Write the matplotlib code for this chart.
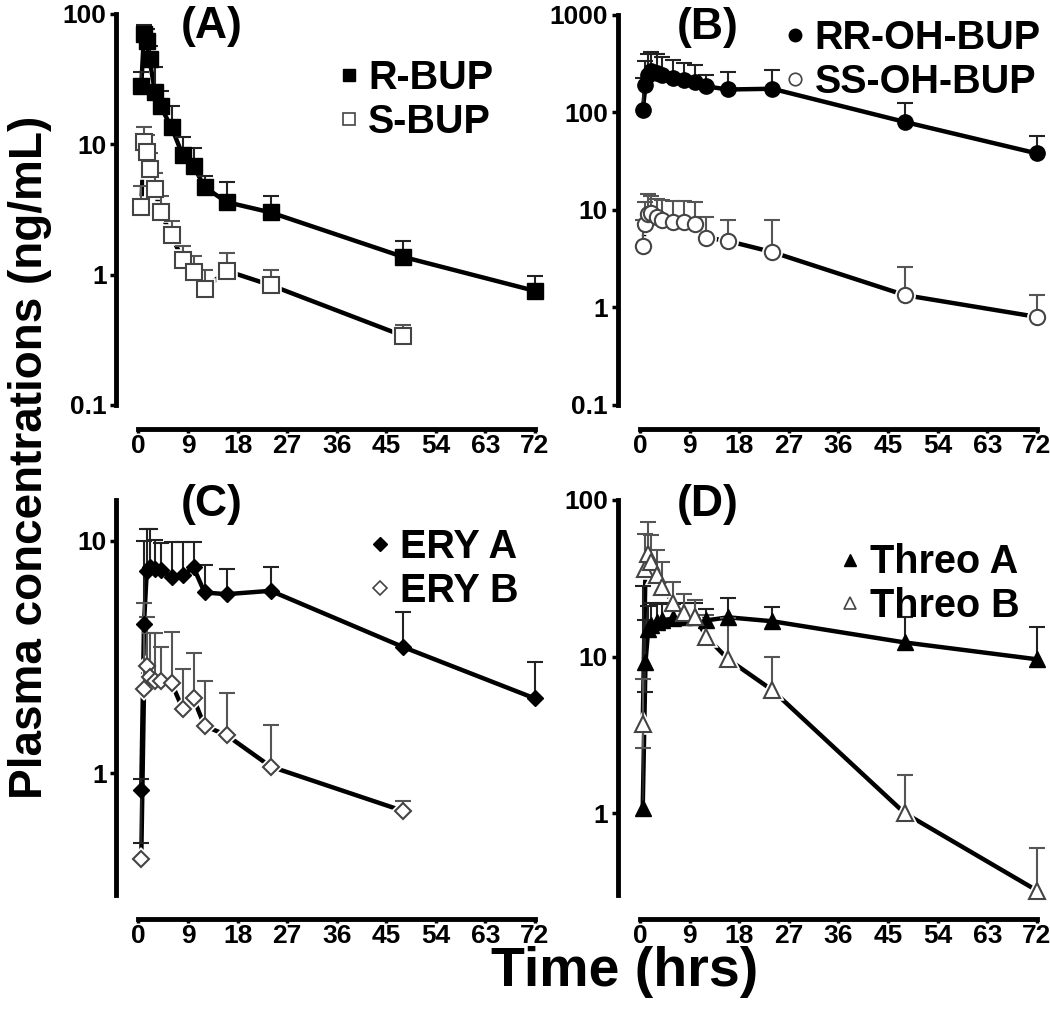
import matplotlib
matplotlib.use('Agg')
import matplotlib.pyplot as plt
from matplotlib.lines import Line2D
from matplotlib.ticker import FixedLocator, FuncFormatter

plt.rcParams['font.family'] = ['Liberation Sans', 'DejaVu Sans']

# sampling times (hrs)
t_full = [0.5, 1, 1.5, 2, 3, 4, 6, 8, 10, 12, 16, 24, 48, 72]
t_48 = [0.5, 1, 1.5, 2, 3, 4, 6, 8, 10, 12, 16, 24, 48]

# (A) bupropion enantiomers
r_bup = [28, 70, 62, 45, 25, 19.5, 13.5, 8.3, 6.8, 4.7, 3.6, 3.0, 1.37, 0.75]
r_bup_sd = [8, 12, 15, 12, 14, 6, 6, 3, 2.5, 1.0, 1.5, 1.0, 0.45, 0.22]
s_bup = [3.3, 10.5, 8.8, 6.5, 4.5, 3.0, 2.0, 1.3, 1.05, 0.78, 1.07, 0.83, 0.34]
s_bup_sd = [1.5, 3.0, 3.0, 2.0, 1.5, 1.0, 0.6, 0.35, 0.35, 0.3, 0.4, 0.25, 0.07]

# (B) hydroxybupropion
rr_oh = [105, 190, 240, 265, 255, 240, 225, 215, 205, 185, 172, 175, 80, 38]
rr_oh_sd = [120, 150, 160, 150, 140, 130, 120, 110, 100, 60, 90, 100, 45, 20]
ss_oh = [4.3, 7.2, 9.0, 9.3, 8.5, 7.8, 7.5, 7.5, 7.2, 5.2, 4.8, 3.7, 1.34, 0.8]
ss_oh_sd = [3.5, 5, 5.5, 4.5, 4.5, 5, 5, 5, 5, 3.3, 3.0, 4.2, 1.26, 0.55]

# (C) erythrohydrobupropion
ery_a = [0.85, 4.4, 7.4, 7.7, 7.6, 7.5, 7.0, 7.1, 7.7, 6.0, 5.9, 6.1, 3.5, 2.1]
ery_a_sd = [0.1, 5.6, 3.9, 3.5, 2.5, 2.3, 2.9, 2.8, 2.2, 1.9, 1.7, 1.6, 1.45, 0.9]
ery_a_lo = [0.35, 0, 0, 0, 0, 0, 0, 0, 0, 0, 0, 0, 0, 0]
ery_b = [0.43, 2.3, 2.9, 2.6, 2.5, 2.5, 2.45, 1.9, 2.1, 1.6, 1.46, 1.07, 0.69]
ery_b_sd = [0, 3.1, 1.8, 1.4, 1.5, 1.0, 1.6, 0.9, 1.2, 0.9, 0.75, 0.55, 0.07]

# (D) threohydrobupropion
threo_a = [1.08, 9.2, 15, 16, 16.5, 17, 17.5, 18, 18, 17, 17.8, 16.8, 12.3, 9.6]
threo_a_sd = [27, 8, 6, 6, 5, 5, 4, 4, 4, 3, 6, 4, 5.5, 5.8]
threo_a_lo = [0, 3.3, 0, 0, 0, 0, 0, 0, 0, 0, 0, 0, 0, 0]
threo_b = [3.7, 36, 45, 40, 33, 28, 22, 19, 18, 13.4, 9.6, 6.1, 1.0, 0.32]
threo_b_sd = [3.5, 25, 27, 20, 15, 12, 8, 6, 5, 5, 8, 3.9, 0.74, 0.28]
threo_b_lo = [1.1, 0, 0, 0, 0, 0, 0, 0, 0, 0, 0, 0, 0, 0]

x_ticks = [0, 9, 18, 27, 36, 45, 54, 63, 72]

fig = plt.figure(figsize=(10.5, 10.17), dpi=100)

# axes boxes in figure fractions
axA = fig.add_axes([0.1319, 0.6018, 0.3776, 0.3845])
axB = fig.add_axes([0.6095, 0.6018, 0.3781, 0.3835])
axC = fig.add_axes([0.1319, 0.1200, 0.3776, 0.3884])
axD = fig.add_axes([0.6095, 0.1200, 0.3781, 0.3884])


def draw_errors(ax, t, y, up, lo, ecol):
    # upper bars (and lower ones only where given), caps only at the ends
    tops = [v + u for v, u in zip(y, up)]
    ax.vlines(t, y, tops, color=ecol, lw=1.5, zorder=4, clip_on=False)
    ax.plot(t, tops, ls='none', marker='_', ms=11, mew=1.5, color=ecol,
            zorder=4, clip_on=False)
    if lo is not None:
        tl = [x for x, d in zip(t, lo) if d > 0]
        yl = [v for v, d in zip(y, lo) if d > 0]
        bl = [v - d for v, d in zip(y, lo) if d > 0]
        ax.vlines(tl, bl, yl, color=ecol, lw=1.5, zorder=4, clip_on=False)
        ax.plot(tl, bl, ls='none', marker='_', ms=11, mew=1.5, color=ecol,
                zorder=4, clip_on=False)


def draw_series(ax, t, y, up, lo, marker, ms, filled):
    ax.plot(t, y, color='black', lw=3.2, zorder=2, clip_on=False)
    if filled:
        ecol = '#222222'
    else:
        ecol = '#555555'
        # white halo so the line stops short of open symbols
        ax.plot(t, y, ls='none', marker=marker, ms=ms, mfc='white',
                mec='white', mew=4, zorder=3, clip_on=False)
    draw_errors(ax, t, y, up, lo, ecol)
    if filled:
        ax.plot(t, y, ls='none', marker=marker, ms=ms, mfc='black',
                mec='black', zorder=5, clip_on=False)
    else:
        ax.plot(t, y, ls='none', marker=marker, ms=ms, mfc='white',
                mec='#444444', mew=1.5, zorder=5, clip_on=False)


def style_axis(ax, ymin, ymax, yticks, label, label_x, label_y):
    ax.set_yscale('log')
    ax.set_xlim(0, 72)
    ax.set_ylim(ymin, ymax)
    ax.spines['top'].set_visible(False)
    ax.spines['right'].set_visible(False)
    ax.spines['left'].set_position(('outward', 16))
    ax.spines['bottom'].set_position(('outward', 17))
    ax.spines['left'].set_linewidth(3.5)
    ax.spines['bottom'].set_linewidth(3.5)
    ax.set_xticks(x_ticks)
    ax.yaxis.set_major_locator(FixedLocator(yticks))
    ax.yaxis.set_major_formatter(FuncFormatter(lambda v, p: '%g' % v))
    ax.yaxis.set_minor_locator(FixedLocator([]))
    ax.tick_params(axis='x', length=3, width=2.5, pad=1, labelsize=19)
    ax.tick_params(axis='y', length=4, width=2.5, pad=3, labelsize=19)
    for lab in ax.get_xticklabels() + ax.get_yticklabels():
        lab.set_fontweight('bold')
    ax.text(label_x, label_y, label, transform=ax.transAxes, ha='center',
            va='top', fontsize=32, fontweight='bold')


def add_legend(ax, names, marker, ms, x, y):
    handles = [
        Line2D([], [], ls='none', marker=marker, ms=ms, mfc='black', mec='black'),
        Line2D([], [], ls='none', marker=marker, ms=ms, mfc='white',
               mec='#444444', mew=1.2),
    ]
    ax.legend(handles, names, loc='upper left', bbox_to_anchor=(x, y),
              frameon=False, handlelength=0.6, handletextpad=0.2,
              borderpad=0, borderaxespad=0, labelspacing=0.15,
              prop={'size': 28.5, 'weight': 'bold'})


# (A)
draw_series(axA, t_full, r_bup, r_bup_sd, None, 's', 11, True)
draw_series(axA, t_48, s_bup, s_bup_sd, None, 's', 12, False)
style_axis(axA, 0.1, 100, [0.1, 1, 10, 100], '(A)', 0.185, 1.02)
add_legend(axA, ['R-BUP', 'S-BUP'], 's', 9, 0.5, 0.885)

# (B)
draw_series(axB, t_full, rr_oh, rr_oh_sd, None, 'o', 11, True)
draw_series(axB, t_full, ss_oh, ss_oh_sd, None, 'o', 11, False)
style_axis(axB, 0.1, 1000, [0.1, 1, 10, 100, 1000], '(B)', 0.17, 1.02)
add_legend(axB, ['RR-OH-BUP', 'SS-OH-BUP'], 'o', 9, 0.36, 0.99)

# (C)
draw_series(axC, t_full, ery_a, ery_a_sd, ery_a_lo, 'D', 8.5, True)
draw_series(axC, t_48, ery_b, ery_b_sd, None, 'D', 8.5, False)
style_axis(axC, 0.3, 15, [1, 10], '(C)', 0.185, 1.04)
add_legend(axC, ['ERY A', 'ERY B'], 'D', 7.5, 0.58, 0.93)

# (D)
draw_series(axD, t_full, threo_a, threo_a_sd, threo_a_lo, '^', 11, True)
draw_series(axD, t_full, threo_b, threo_b_sd, threo_b_lo, '^', 11, False)
style_axis(axD, 0.3, 100, [1, 10, 100], '(D)', 0.17, 1.04)
add_legend(axD, ['Threo A', 'Threo B'], '^', 9, 0.5, 0.89)

fig.text(0.029, 0.55, 'Plasma concentrations (ng/mL)', rotation=90,
         ha='center', va='center', fontsize=33, fontweight='bold')
fig.text(0.595, 0.044, 'Time (hrs)', ha='center', va='center',
         fontsize=40, fontweight='bold')

fig.savefig('out.png', dpi=100)
